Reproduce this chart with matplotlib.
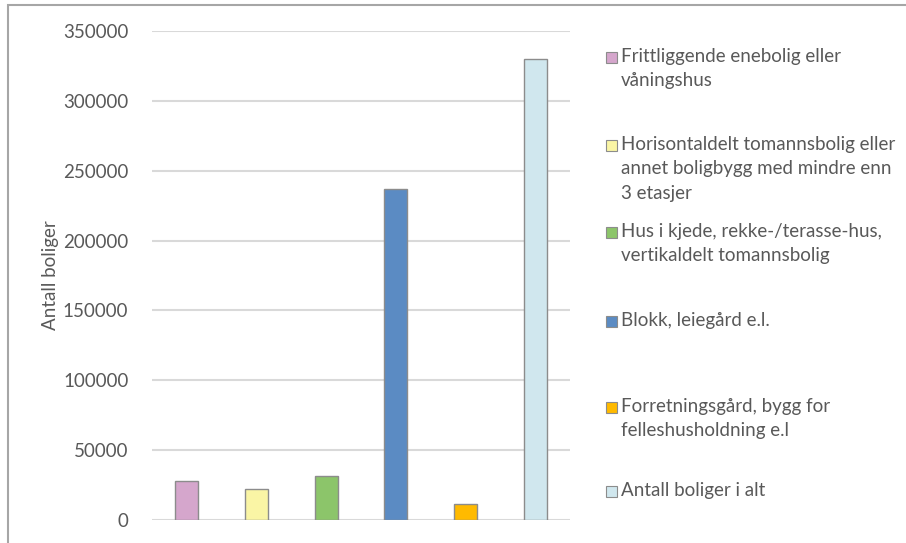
import matplotlib.pyplot as plt
from matplotlib.patches import Rectangle

plt.rcParams['font.family'] = ['Lato', 'DejaVu Sans']

kategorier = [
    'Frittliggende enebolig eller\nvåningshus',
    'Horisontaldelt tomannsbolig eller\nannet boligbygg med mindre enn\n3 etasjer',
    'Hus i kjede, rekke-/terasse-hus,\nvertikaldelt tomannsbolig',
    'Blokk, leiegård e.l.',
    'Forretningsgård, bygg for\nfelleshusholdning e.l',
    'Antall boliger i alt',
]
antall = [28000, 22200, 31300, 237000, 11400, 330000]
farger = ['#d5a6cc', '#faf5a5', '#8cc56a', '#5b8bc3', '#ffba00', '#d0e7ee']
y_ticks = [0, 50000, 100000, 150000, 200000, 250000, 300000, 350000]

W, H = 906, 543
fig = plt.figure(figsize=(W / 100, H / 100), dpi=100)
tekst = '#595959'

# ramme rundt hele diagrammet
fig.add_artist(Rectangle((8 / W, -0.1), 1.2, 1 - 5 / H + 0.1, transform=fig.transFigure,
                         fill=False, edgecolor='#a6a6a6', linewidth=1.5))

ax = fig.add_axes([152 / W, (H - 520) / H, (570 - 152) / W, (520 - 31) / H])
x = range(len(antall))
ax.bar(x, antall, width=0.33, color=farger, edgecolor='#8c8c8c', linewidth=1, zorder=3)
ax.set_xlim(-0.5, len(antall) - 0.5)
ax.set_ylim(0, 350000)
ax.set_yticks(y_ticks)
ax.set_yticklabels([str(v) for v in y_ticks])
ax.set_xticks([])
ax.grid(axis='y', color='#d9d9d9', linewidth=1.5, zorder=0)
for s in ax.spines.values():
    s.set_visible(False)
ax.tick_params(axis='y', length=0, pad=17, labelsize=13.5, labelcolor=tekst)
ax.set_ylabel('Antall boliger', fontsize=13.5, color=tekst, labelpad=3)

# forklaring til høyre, én rute per kategori
legend_y = [57, 145, 232, 321, 407, 491]
for lab, c, yy in zip(kategorier, farger, legend_y):
    fig.add_artist(Rectangle((606 / W, (H - yy - 6) / H), 11 / W, 11 / H,
                             transform=fig.transFigure, facecolor=c,
                             edgecolor='#8c8c8c', linewidth=0.8))
    fig.text(621 / W, (H - yy + 9) / H, lab, fontsize=13.5, color=tekst,
             va='top', ha='left', linespacing=1.52)

fig.savefig('out.png', dpi=100)
